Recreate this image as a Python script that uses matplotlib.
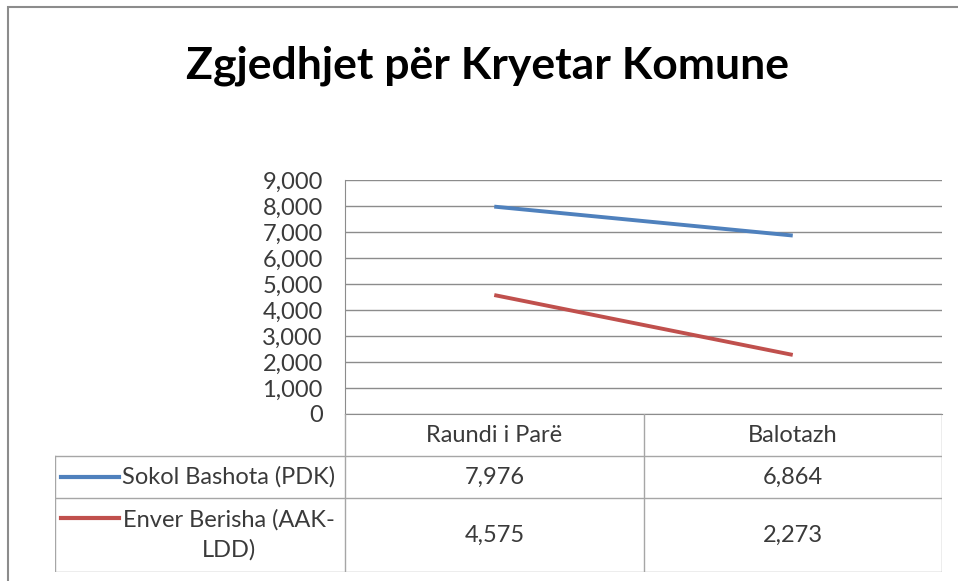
import numpy as np
import matplotlib.pyplot as plt
from matplotlib.patches import Rectangle

title = "Zgjedhjet për Kryetar Komune"
categories = ["Raundi i Parë", "Balotazh"]
series_names = ["Sokol Bashota (PDK)", "Enver Berisha (AAK-\nLDD)"]
sokol = [7976, 6864]
enver = [4575, 2273]
series = [sokol, enver]
colors = ["#4F81BD", "#C0504D"]
yticks = np.arange(0, 10000, 1000)

W, H = 958, 581
plt.rcParams['font.family'] = ['Lato', 'DejaVu Sans']
txt = '#3a3a3a'
gridc = '#8c8c8c'
tabc = '#a6a6a6'
fs = 17

fig = plt.figure(figsize=(W / 100, H / 100), dpi=100)


def box(x0, y0, x1, y1):
    # pixel box (top-left origin) -> figure fraction rect
    return [x0 / W, 1 - y1 / H, (x1 - x0) / W, (y1 - y0) / H]


# outer chart frame
fig.patches.append(Rectangle((8 / W, -0.1), 1.1, 1 - 7 / H + 0.1,
                             transform=fig.transFigure, fill=False,
                             ec='#8c8c8c', lw=1.5))

fig.text(487 / W, 1 - 66 / H, title, ha='center', va='center',
         fontsize=32, fontweight='bold', color='black')

# line chart
ax = fig.add_axes(box(345, 180, 942, 414))
for vals, c in zip(series, colors):
    ax.plot(range(len(categories)), vals, color=c, lw=2.8,
            solid_capstyle='butt')
ax.set_xlim(-0.5, len(categories) - 0.5)
ax.set_ylim(0, 9000)
ax.set_yticks(yticks)
ax.set_yticklabels([f"{v:,}" for v in yticks], fontsize=fs, color=txt)
ax.set_xticks([])
ax.tick_params(axis='y', length=0, pad=16)
ax.yaxis.grid(True, color=gridc, lw=1)
ax.set_axisbelow(True)
for s in ['top', 'right']:
    ax.spines[s].set_visible(False)
ax.spines['left'].set_color(gridc)
ax.spines['bottom'].set_color(gridc)

# data table below
tx = fig.add_axes(box(55, 414, 942, 572))
left = -0.5 - 290 / 298
tx.set_xlim(left, len(categories) - 0.5)
tx.set_ylim(158, 0)
tx.axis('off')
rows = [0, 42, 84, 158]
for y in rows[1:]:
    tx.plot([left, len(categories) - 0.5], [y, y], color=tabc, lw=1)
tx.plot([left, left], [rows[1], rows[-1]], color=tabc, lw=1)
for x in np.arange(len(categories) + 1) - 0.5:
    tx.plot([x, x], [rows[0], rows[-1]], color=tabc, lw=1)

for i, cat in enumerate(categories):
    tx.text(i, (rows[0] + rows[1]) / 2, cat, ha='center', va='center',
            fontsize=fs, color=txt)
for r, (name, vals, c) in enumerate(zip(series_names, series, colors)):
    yc = (rows[r + 1] + rows[r + 2]) / 2
    for i, v in enumerate(vals):
        tx.text(i, yc, f"{v:,}", ha='center', va='center',
                fontsize=fs, color=txt)
    ky = yc if '\n' not in name else rows[r + 1] + 20
    tx.plot([left + 0.02, left + 0.215], [ky, ky], color=c, lw=3)
    tx.text(-0.89, yc, name, ha='center', va='center', fontsize=fs,
            color=txt, multialignment='center', linespacing=1.45)

fig.savefig('out.png', dpi=100)
